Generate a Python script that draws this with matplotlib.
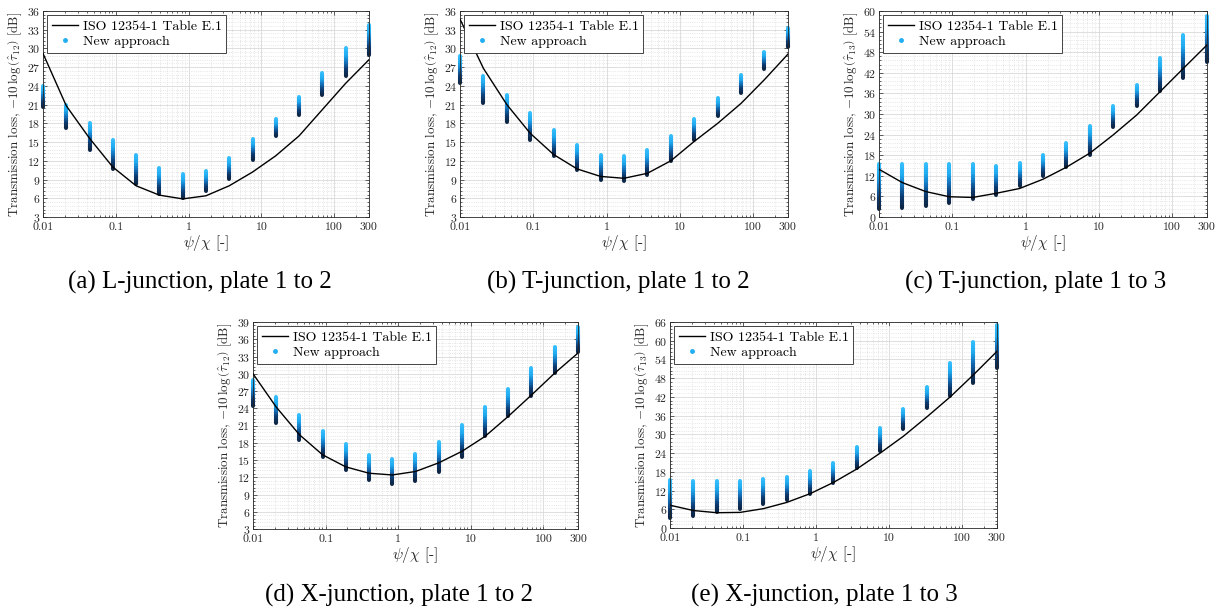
import numpy as np
import matplotlib
matplotlib.use('Agg')
import matplotlib.pyplot as plt
from matplotlib.collections import LineCollection
from matplotlib.colors import LinearSegmentedColormap
from matplotlib.lines import Line2D
from matplotlib.ticker import AutoMinorLocator, FixedLocator, FixedFormatter, MultipleLocator

plt.rcParams['font.family'] = 'cmr10'
plt.rcParams['mathtext.fontset'] = 'cm'
plt.rcParams['axes.formatter.use_mathtext'] = True

# psi/chi values of the computed cases (same for every panel)
col_x = [0.01, 0.0209, 0.0436, 0.091, 0.190, 0.397, 0.829, 1.73, 3.61,
         7.54, 15.7, 32.9, 68.6, 143, 300]

# ISO 12354-1 Table E.1 curves, read at col_x
iso_a = [29.2, 20.8, 15.6, 11.0, 8.0, 6.5, 5.9, 6.4, 8.0, 10.2, 12.8, 16.0, 20.2, 24.4, 28.2]
iso_b = [34.7, 26.8, 21.0, 16.4, 13.0, 10.7, 9.5, 9.2, 10.0, 12.0, 15.1, 18.0, 21.2, 25.0, 29.1]
iso_c = [13.9, 10.0, 7.4, 5.9, 5.7, 6.9, 8.3, 11.0, 14.5, 18.6, 23.9, 29.7, 36.5, 43.3, 50.1]
iso_d = [30.0, 24.2, 19.4, 15.9, 13.8, 12.7, 12.4, 13.0, 14.5, 16.5, 19.1, 22.6, 26.3, 30.1, 33.6]
iso_e = [7.3, 5.6, 4.9, 5.0, 6.2, 8.2, 11.0, 14.6, 18.9, 24.0, 29.4, 35.6, 42.0, 49.1, 56.6]

# new approach: lowest / highest value in each column
new_lo_a = [20.6, 17.2, 13.8, 10.7, 8.3, 6.7, 6.0, 7.1, 9.1, 12.2, 15.9, 19.3, 22.5, 25.6, 29.0]
new_hi_a = [24.0, 21.0, 18.0, 15.4, 13.0, 10.9, 9.9, 10.4, 12.4, 15.5, 18.7, 22.3, 26.1, 30.0, 33.8]
new_lo_b = [24.4, 21.2, 18.2, 15.4, 12.7, 10.5, 9.0, 8.7, 9.8, 12.0, 15.4, 19.1, 22.9, 26.7, 30.3]
new_hi_b = [28.8, 25.6, 22.6, 19.6, 17.0, 14.6, 13.0, 12.7, 13.7, 16.0, 18.7, 22.0, 25.8, 29.5, 33.3]
new_lo_c = [2.2, 2.6, 3.3, 4.1, 5.1, 6.5, 8.9, 11.8, 14.7, 18.1, 26.2, 32.4, 36.6, 40.6, 45.1]
new_hi_c = [15.5, 15.5, 15.5, 15.5, 15.5, 15.0, 15.7, 18.1, 21.5, 26.6, 32.2, 38.5, 46.2, 53.0, 58.4]
new_lo_d = [24.4, 21.4, 18.4, 15.6, 13.3, 11.5, 10.8, 11.4, 13.0, 15.6, 19.1, 22.6, 26.2, 30.1, 33.7]
new_hi_d = [29.0, 25.9, 22.9, 20.1, 17.8, 15.8, 15.2, 16.1, 18.1, 21.1, 24.2, 27.4, 31.0, 34.6, 38.1]
new_lo_e = [3.2, 4.0, 5.0, 6.2, 7.7, 8.9, 10.9, 14.4, 19.2, 24.8, 31.7, 38.4, 42.4, 46.5, 51.3]
new_hi_e = [15.3, 15.2, 15.0, 15.2, 15.7, 16.3, 18.2, 20.8, 26.0, 32.0, 38.2, 45.1, 52.9, 59.6, 65.1]

panels = [
    dict(iso=iso_a, lo=new_lo_a, hi=new_hi_a, ylim=(3, 36), sub='12',
         caption='(a) L-junction, plate 1 to 2'),
    dict(iso=iso_b, lo=new_lo_b, hi=new_hi_b, ylim=(3, 36), sub='12',
         caption='(b) T-junction, plate 1 to 2'),
    dict(iso=iso_c, lo=new_lo_c, hi=new_hi_c, ylim=(0, 60), sub='13',
         caption='(c) T-junction, plate 1 to 3'),
    dict(iso=iso_d, lo=new_lo_d, hi=new_hi_d, ylim=(3, 39), sub='12',
         caption='(d) X-junction, plate 1 to 2'),
    dict(iso=iso_e, lo=new_lo_e, hi=new_hi_e, ylim=(0, 66), sub='13',
         caption='(e) X-junction, plate 1 to 3'),
]

# pixel boxes: left, right, top, bottom ; caption centre
W, H = 1225, 616
boxes = [(43, 369, 11, 217), (460, 788, 11, 217), (879, 1207, 11, 217),
         (253, 578, 322, 529), (670, 997, 322, 528)]
cap_pos = [(200, 282), (618, 282), (1036, 282), (399, 595), (824, 595)]

cmap = LinearSegmentedColormap.from_list(
    'blues', ['#0d2545', '#0c3b70', '#1372bb', '#20aaf0', '#33bdfc'])
light = '#22aef2'
strip_w = 2.9

fig = plt.figure(figsize=(W / 100, H / 100), dpi=100)

for p, (l, r, t, b), (cx, cy) in zip(panels, boxes, cap_pos):
    ax = fig.add_axes([l / W, 1 - b / H, (r - l) / W, (b - t) / H])
    ax.set_xscale('log')
    ax.set_xlim(0.01, 300)
    ax.set_ylim(*p['ylim'])

    ax.grid(which='major', color='#d9d9d9', lw=0.6, zorder=0)
    ax.grid(which='minor', color='#dedede', ls=':', lw=0.6, zorder=0)
    ax.set_axisbelow(True)

    # columns of new approach results, dark at bottom to light at top
    n = 40
    for x, lo, hi in zip(col_x, p['lo'], p['hi']):
        mid = 0.5 * (lo + hi)
        ax.plot([x, x], [lo, mid], color=cmap(0.0), lw=strip_w,
                solid_capstyle='round', zorder=2, clip_on=False)
        ax.plot([x, x], [mid, hi], color=cmap(1.0), lw=strip_w,
                solid_capstyle='round', zorder=2, clip_on=False)
        ys = np.linspace(lo, hi, n + 1)
        segs = [[(x, ys[i]), (x, ys[i + 1])] for i in range(n)]
        lc = LineCollection(segs, colors=cmap(np.linspace(0, 1, n)),
                            linewidths=strip_w, capstyle='butt', zorder=2.1)
        lc.set_clip_on(False)
        ax.add_collection(lc)

    ax.plot(col_x, p['iso'], color='black', lw=1.0, zorder=3)

    ax.xaxis.set_major_locator(FixedLocator([0.01, 0.1, 1, 10, 100, 300]))
    ax.xaxis.set_major_formatter(FixedFormatter(['0.01', '0.1', '1', '10', '100', '300']))
    step = 3 if p['ylim'][1] < 40 else 6
    ax.yaxis.set_major_locator(MultipleLocator(step))
    ax.yaxis.set_minor_locator(AutoMinorLocator(5))
    ax.tick_params(which='both', direction='in', top=True, right=True,
                   labelsize=8.5, width=0.5, colors='#262626')
    ax.tick_params(axis='x', pad=4)
    ax.tick_params(axis='y', pad=2)
    ax.tick_params(which='major', length=3)
    ax.tick_params(which='minor', length=1.5)
    for s in ax.spines.values():
        s.set_linewidth(0.6)
        s.set_color('#262626')

    ax.set_xlabel(r'$\psi/\chi$ [-]', fontsize=11, color='#262626', labelpad=1)
    ax.set_ylabel(r'Transmission loss, $-10\,\log\left(\hat{\tau}_{%s}\right)$ [dB]' % p['sub'],
                  fontsize=9.4, color='#262626', labelpad=2)

    handles = [Line2D([], [], color='black', lw=1.0),
               Line2D([], [], ls='none', marker='.', ms=5, color=light)]
    leg = ax.legend(handles, ['ISO 12354-1 Table E.1', 'New approach'],
                    loc='upper left', fontsize=10, fancybox=False,
                    framealpha=1, edgecolor='#262626', borderaxespad=0.3,
                    handlelength=1.9, handletextpad=0.3, borderpad=0.35,
                    labelspacing=0.2)
    leg.get_frame().set_linewidth(0.6)
    leg.set_zorder(5)

    fig.text(cx / W, 1 - cy / H, p['caption'], ha='center', va='center',
             fontsize=18, family='Liberation Serif')

fig.savefig('out.png', dpi=100)
